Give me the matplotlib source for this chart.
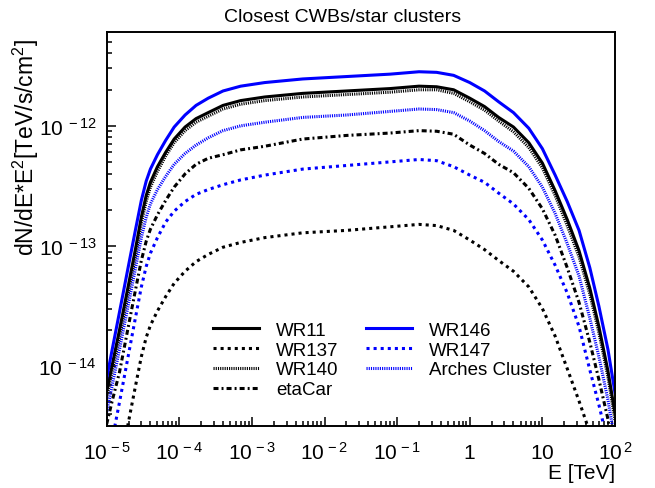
import numpy as np
import matplotlib
matplotlib.use("Agg")
import matplotlib.pyplot as plt
from matplotlib.ticker import FixedLocator, FuncFormatter, NullFormatter

plt.rcParams["font.family"] = ["Liberation Sans", "DejaVu Sans"]
plt.rcParams["mathtext.fontset"] = "custom"
plt.rcParams["mathtext.rm"] = "Liberation Sans"
plt.rcParams["mathtext.it"] = "Liberation Sans:italic"
plt.rcParams["lines.scale_dashes"] = False

# energy grid (TeV)
energy_tev = [1.0e-5, 1.2e-5, 1.5e-5, 2.0e-5, 2.5e-5, 3.0e-5, 3.5e-5, 4.0e-5,
              5.0e-5, 6.5e-5, 8.5e-5, 1.2e-4, 1.7e-4, 2.5e-4, 4.0e-4, 7.0e-4,
              1.5e-3, 5.0e-3, 2.0e-2, 8.0e-2, 0.2, 0.35, 0.6, 1.0, 1.6, 2.5,
              4.0, 6.5, 10.0, 15.0, 22.0, 32.0, 45.0, 60.0, 80.0, 100.0]

# log10 of E^2 dN/dE (TeV/s/cm^2) for every source
log_wr11 = [-14.21, -13.98, -13.70, -13.32, -13.02, -12.76, -12.58, -12.47,
            -12.34, -12.22, -12.11, -12.01, -11.94, -11.89, -11.83, -11.79,
            -11.76, -11.73, -11.71, -11.69, -11.67, -11.675, -11.70, -11.77,
            -11.84, -11.93, -12.01, -12.14, -12.31, -12.54, -12.78, -13.04,
            -13.35, -13.67, -14.04, -14.39]
log_wr137 = [-15.40, -15.15, -14.85, -14.46, -14.16, -13.92, -13.76, -13.66,
             -13.54, -13.42, -13.31, -13.21, -13.13, -13.07, -13.01, -12.97,
             -12.93, -12.89, -12.87, -12.84, -12.82, -12.83, -12.87, -12.95,
             -13.03, -13.12, -13.21, -13.34, -13.52, -13.75, -14.02, -14.29,
             -14.55, -14.90, -15.30, -15.65]
log_wr140 = [-14.26, -14.03, -13.76, -13.38, -13.08, -12.81, -12.63, -12.51,
             -12.38, -12.25, -12.14, -12.04, -11.97, -11.92, -11.86, -11.82,
             -11.79, -11.76, -11.74, -11.72, -11.70, -11.70, -11.73, -11.80,
             -11.87, -11.96, -12.05, -12.18, -12.35, -12.58, -12.83, -13.09,
             -13.40, -13.72, -14.09, -14.45]
log_etacar = [-14.48, -14.28, -14.05, -13.66, -13.36, -13.12, -12.96, -12.86,
              -12.74, -12.62, -12.51, -12.40, -12.32, -12.27, -12.24, -12.20,
              -12.17, -12.11, -12.08, -12.06, -12.04, -12.045, -12.07, -12.16,
              -12.23, -12.32, -12.39, -12.52, -12.69, -12.91, -13.18, -13.47,
              -13.80, -14.11, -14.44, -14.78]
log_wr146 = [-14.10, -13.85, -13.55, -13.16, -12.86, -12.62, -12.46, -12.36,
             -12.24, -12.12, -12.01, -11.91, -11.83, -11.77, -11.71, -11.67,
             -11.64, -11.61, -11.59, -11.57, -11.55, -11.555, -11.58, -11.64,
             -11.71, -11.80, -11.89, -12.02, -12.19, -12.41, -12.63, -12.87,
             -13.18, -13.50, -13.86, -14.22]
log_wr147 = [-14.85, -14.60, -14.30, -13.90, -13.59, -13.34, -13.17, -13.06,
             -12.93, -12.80, -12.71, -12.63, -12.57, -12.53, -12.49, -12.45,
             -12.41, -12.36, -12.33, -12.30, -12.28, -12.29, -12.34, -12.41,
             -12.47, -12.56, -12.65, -12.78, -12.95, -13.16, -13.39, -13.67,
             -14.03, -14.32, -14.64, -14.97]
log_arches = [-14.38, -14.15, -13.86, -13.48, -13.18, -12.93, -12.76, -12.65,
              -12.53, -12.42, -12.32, -12.23, -12.16, -12.10, -12.04, -12.00,
              -11.97, -11.93, -11.91, -11.88, -11.86, -11.865, -11.89, -11.96,
              -12.04, -12.13, -12.21, -12.34, -12.51, -12.73, -12.98, -13.25,
              -13.60, -13.92, -14.28, -14.62]

DASHED = (0, (2.2, 2.9))
DOTTED = (0, (0.8, 0.8))
DASHDOT = (0, (3.6, 2.2, 1.4, 2.2))
BLUE = "#0000ff"

series = [
    ("WR11", log_wr11, "black", "-"),
    ("WR137", log_wr137, "black", DASHED),
    ("WR140", log_wr140, "black", DOTTED),
    ("etaCar", log_etacar, "black", DASHDOT),
    ("WR146", log_wr146, BLUE, "-"),
    ("WR147", log_wr147, BLUE, DASHED),
    ("Arches Cluster", log_arches, BLUE, DOTTED),
]

x_major = [10.0 ** k for k in range(-5, 3)]
x_minor = [m * 10.0 ** k for k in range(-5, 2) for m in range(2, 10)]
y_major = [1e-14, 1e-13, 1e-12]
y_minor = [m * 10.0 ** k for k in range(-15, -11) for m in range(2, 10)
           if 3.2e-15 < m * 10.0 ** k < 6e-12]


def x_label(val, pos):
    exp = int(round(np.log10(val)))
    if exp == 0:
        return r"$\mathdefault{1}$"
    if exp == 1:
        return r"$\mathdefault{10}$"
    return r"$\mathdefault{10^{\,%d}}$" % exp


def y_label(val, pos):
    exp = int(round(np.log10(val)))
    return r"$\mathdefault{10^{\;%d}}$" % exp


fig = plt.figure(figsize=(6.55, 4.89), dpi=100)
ax = fig.add_axes([0.1629, 0.1274, 0.776, 0.8045])

e = np.array(energy_tev)
for name, logs, color, style in series:
    ax.plot(e, 10.0 ** np.array(logs), color=color, linestyle=style,
            linewidth=2.2, label=name)

ax.set_xscale("log")
ax.set_yscale("log")
ax.set_xlim(1e-5, 1e2)
ax.set_ylim(3.2e-15, 6e-12)

ax.xaxis.set_major_locator(FixedLocator(x_major))
ax.xaxis.set_minor_locator(FixedLocator(x_minor))
ax.yaxis.set_major_locator(FixedLocator(y_major))
ax.yaxis.set_minor_locator(FixedLocator(y_minor))
ax.xaxis.set_major_formatter(FuncFormatter(x_label))
ax.yaxis.set_major_formatter(FuncFormatter(y_label))
ax.xaxis.set_minor_formatter(NullFormatter())
ax.yaxis.set_minor_formatter(NullFormatter())

ax.tick_params(which="both", direction="in", top=False, right=False)
ax.tick_params(which="major", length=6.5, width=1.1, labelsize=15)
ax.tick_params(which="minor", length=3.3, width=1.1)
ax.tick_params(axis="x", which="major", pad=23.5)
ax.tick_params(axis="y", which="major", pad=7.4)
for lbl in ax.get_xticklabels():
    lbl.set_verticalalignment("baseline")
for sp in ax.spines.values():
    sp.set_linewidth(1.4)

ax.set_xlabel("E [TeV]", fontsize=15, loc="right")
ax.xaxis.set_label_coords(1.0, -0.096)
ax.set_ylabel(r"dN/dE*E$^{2}$[TeV/s/cm$^{2}$]", fontsize=16.5, loc="top")
ax.yaxis.set_label_coords(-0.129, 0.985)

fig.text(342.7 / 655, 1 - 17 / 489, "Closest CWBs/star clusters",
         ha="center", va="center", fontsize=14)

ax.legend(ncol=2, frameon=False, fontsize=13.5, loc="upper left",
          bbox_to_anchor=(213 / 655, 1 - 322.5 / 489),
          bbox_transform=fig.transFigure, borderaxespad=0, borderpad=0,
          handlelength=2.45, handletextpad=0.9, columnspacing=1.5,
          labelspacing=0.15)

fig.savefig("out.png", dpi=100)
